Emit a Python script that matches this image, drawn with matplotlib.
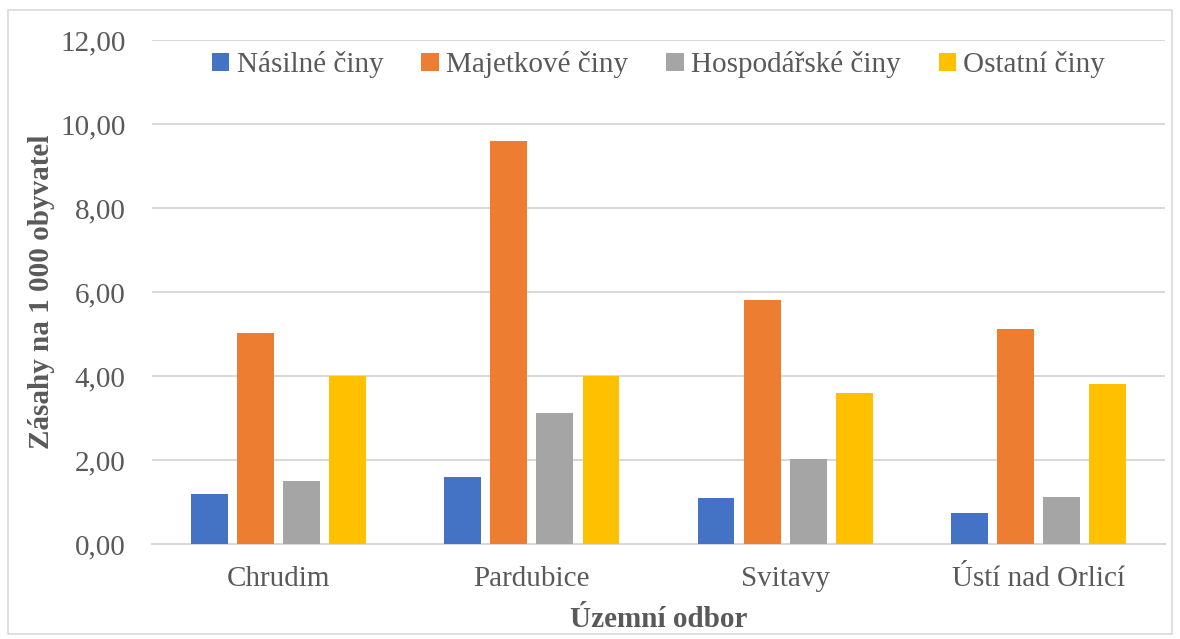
import numpy as np
import matplotlib
matplotlib.use("Agg")
import matplotlib.pyplot as plt
from matplotlib.patches import Rectangle

# data
districts = ["Chrudim", "Pardubice", "Svitavy", "Ústí nad Orlicí"]
series = ["Násilné činy", "Majetkové činy", "Hospodářské činy", "Ostatní činy"]
nasilne = [1.20, 1.59, 1.09, 0.75]
majetkove = [5.02, 9.60, 5.80, 5.13]
hospodarske = [1.51, 3.13, 2.02, 1.11]
ostatni = [4.00, 4.00, 3.59, 3.80]
colors = ["#4472C4", "#ED7D31", "#A5A5A5", "#FFC000"]

plt.rcParams["font.family"] = ["Liberation Serif", "DejaVu Serif"]
TXT = "#595959"
FS = 21

fig = plt.figure(figsize=(11.8, 6.39), dpi=100)
ax = fig.add_axes([152 / 1180, 1 - 544 / 639, 1013 / 1180, 504 / 639])

x = np.arange(len(districts))
width = 0.146
step = 0.182
for i, (vals, name, col) in enumerate(zip([nasilne, majetkove, hospodarske, ostatni], series, colors)):
    ax.bar(x + (i - 1.5) * step, vals, width, color=col, label=name, zorder=3)

ax.set_xlim(-0.5, len(districts) - 0.5)
ax.set_ylim(0, 12)
ax.set_yticks(np.arange(0, 13, 2))
ax.set_yticklabels([f"{v:.2f}".replace(".", ",") for v in np.arange(0, 13, 2)])
ax.set_xticks(x)
ax.set_xticklabels(districts)
ax.tick_params(axis="both", length=0, labelsize=FS, labelcolor=TXT)
ax.tick_params(axis="y", pad=19)
ax.tick_params(axis="x", pad=16)
ax.grid(axis="y", color="#D9D9D9", linewidth=1.5, zorder=0)
for s in ["top", "right", "left"]:
    ax.spines[s].set_visible(False)
ax.spines["bottom"].set_color("#D9D9D9")
ax.spines["bottom"].set_linewidth(1.5)

ax.set_ylabel("Zásahy na 1 000 obyvatel", fontsize=FS, fontweight="bold", color=TXT)
ax.yaxis.set_label_coords(-0.096, 0.5)
ax.set_xlabel("Územní odbor", fontsize=FS, fontweight="bold", color=TXT, labelpad=10)

ax.legend(loc="upper center", bbox_to_anchor=(0.5, 1.03), ncol=4, frameon=False,
          fontsize=FS, labelcolor=TXT, handlelength=0.6, handleheight=0.6,
          handletextpad=0.25, columnspacing=1.3)

# outer chart border
fig.patches.append(Rectangle((8 / 1180, 5 / 639), 1164 / 1180, 624 / 639,
                             transform=fig.transFigure, fill=False,
                             edgecolor="#D9D9D9", linewidth=1.2))

fig.savefig("out.png", dpi=100)
